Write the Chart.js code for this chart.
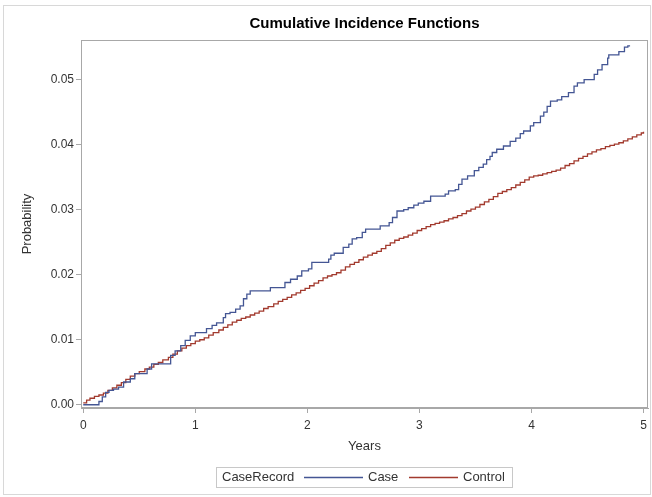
<!DOCTYPE html>
<html><head><meta charset="utf-8">
<script src="https://cdn.jsdelivr.net/npm/chart.js@4/dist/chart.umd.min.js"></script>
<style>html,body{margin:0;padding:0;background:#fff}#wrap{width:652px;height:497px;position:relative}canvas{display:block}</style>
</head><body><div id="wrap"><canvas id="c" width="652" height="497"></canvas></div>
<script>
const titleText = 'Cumulative Incidence Functions';
const xTitle = 'Years';
const yTitle = 'Probability';
const legendTitle = 'CaseRecord';
const seriesNames = ['Case', 'Control'];
const xTickValues = [0, 1, 2, 3, 4, 5];
const yTickValues = [0, 0.01, 0.02, 0.03, 0.04, 0.05];

const caseTimes = [0,0.14,0.17,0.20,0.23,0.27,0.315,0.36,0.42,0.46,0.57,0.61,0.78,0.82,0.87,0.91,0.955,1.0,1.10,1.15,1.19,1.25,1.27,1.31,1.36,1.40,1.43,1.46,1.49,1.67,1.80,1.85,1.91,1.95,2.01,2.04,2.19,2.21,2.24,2.32,2.37,2.40,2.44,2.49,2.52,2.65,2.73,2.76,2.80,2.86,2.90,2.95,2.99,3.04,3.10,3.23,3.26,3.32,3.35,3.38,3.43,3.49,3.53,3.57,3.60,3.63,3.65,3.69,3.75,3.81,3.86,3.90,3.93,3.99,4.02,4.08,4.11,4.14,4.17,4.23,4.27,4.33,4.38,4.41,4.47,4.56,4.59,4.63,4.68,4.69,4.78,4.83,4.86,4.88];
const caseProb = [0,0.0005,0.0012,0.0019,0.0022,0.0024,0.0027,0.0035,0.0040,0.0048,0.0055,0.0063,0.0076,0.0083,0.0091,0.0099,0.0106,0.0111,0.0117,0.0122,0.0126,0.0134,0.0140,0.0142,0.0147,0.0152,0.0163,0.0170,0.0175,0.0180,0.0188,0.0193,0.0198,0.0206,0.0209,0.0219,0.0224,0.0230,0.0233,0.0242,0.0247,0.0255,0.0257,0.0265,0.0270,0.0275,0.0280,0.0288,0.0298,0.0300,0.0303,0.0307,0.0310,0.0313,0.0321,0.0324,0.0329,0.0331,0.0339,0.0347,0.0352,0.0360,0.0365,0.0370,0.0377,0.0382,0.0388,0.0393,0.0398,0.0405,0.0410,0.0417,0.0421,0.0429,0.0434,0.0444,0.0450,0.0459,0.0467,0.0469,0.0474,0.0480,0.0490,0.0495,0.0500,0.0508,0.0515,0.0523,0.0533,0.0538,0.0543,0.0550,0.0552,0.0552];

const controlTimes = [0,0.03,0.06,0.10,0.14,0.18,0.22,0.26,0.30,0.34,0.38,0.42,0.46,0.50,0.55,0.59,0.63,0.67,0.71,0.76,0.80,0.84,0.88,0.92,0.96,1.00,1.04,1.08,1.12,1.16,1.21,1.25,1.29,1.33,1.37,1.41,1.45,1.49,1.53,1.57,1.61,1.65,1.70,1.74,1.78,1.82,1.86,1.90,1.94,1.98,2.02,2.06,2.10,2.14,2.18,2.22,2.26,2.30,2.34,2.38,2.42,2.46,2.50,2.54,2.58,2.62,2.66,2.70,2.74,2.78,2.82,2.86,2.90,2.94,2.98,3.02,3.06,3.10,3.14,3.18,3.22,3.26,3.30,3.34,3.38,3.42,3.46,3.50,3.54,3.58,3.62,3.66,3.70,3.74,3.78,3.82,3.86,3.90,3.94,3.98,4.02,4.06,4.10,4.14,4.18,4.22,4.26,4.30,4.34,4.38,4.42,4.46,4.50,4.54,4.58,4.62,4.66,4.70,4.74,4.78,4.82,4.86,4.90,4.94,4.98,5.00];
const controlProb = [0.0003,0.0007,0.0010,0.0013,0.0015,0.0018,0.0022,0.0026,0.0030,0.0034,0.0039,0.0044,0.0048,0.0051,0.0055,0.0058,0.0062,0.0065,0.0069,0.0073,0.0078,0.0083,0.0087,0.0091,0.0094,0.0098,0.0100,0.0103,0.0107,0.0111,0.0115,0.0119,0.0123,0.0127,0.0130,0.0133,0.0135,0.0138,0.0141,0.0144,0.0148,0.0151,0.0155,0.0159,0.0162,0.0165,0.0169,0.0172,0.0176,0.0179,0.0183,0.0187,0.0191,0.0195,0.0198,0.0200,0.0203,0.0207,0.0212,0.0216,0.0219,0.0223,0.0227,0.0230,0.0233,0.0236,0.0240,0.0245,0.0249,0.0253,0.0256,0.0258,0.0261,0.0264,0.0268,0.0271,0.0274,0.0277,0.0279,0.0281,0.0283,0.0286,0.0288,0.0291,0.0294,0.0298,0.0301,0.0304,0.0308,0.0312,0.0316,0.0320,0.0325,0.0328,0.0331,0.0334,0.0338,0.0342,0.0346,0.0350,0.0352,0.0353,0.0355,0.0357,0.0359,0.0361,0.0364,0.0368,0.0371,0.0375,0.0379,0.0382,0.0386,0.0389,0.0392,0.0394,0.0397,0.0399,0.0401,0.0403,0.0406,0.0409,0.0412,0.0415,0.0418,0.0420];

const colors = ['#445694', '#A23A2E'];
const FONT = '"Liberation Sans", Arial, sans-serif';
const TXT = '#333333';
const AXC = '#a8a8a8';

const toPts = (xs, ys) => xs.map((x, i) => ({x: x, y: ys[i]}));

const decor = {
  id: 'decor',
  afterDraw(chart) {
    const ctx = chart.ctx, a = chart.chartArea;
    ctx.save();
    ctx.strokeStyle = '#d8d8d8'; ctx.lineWidth = 1;
    ctx.strokeRect(3.5, 5.5, 647, 489);
    ctx.strokeStyle = AXC;
    ctx.strokeRect(Math.round(a.left) + 0.5, Math.round(a.top) + 0.5, Math.round(a.right - a.left) - 1, Math.round(a.bottom - a.top) - 1);
    const cx = (a.left + a.right) / 2;
    ctx.fillStyle = '#000';
    ctx.font = 'bold 15px ' + FONT;
    ctx.textAlign = 'center'; ctx.textBaseline = 'middle';
    ctx.fillText(titleText, cx, 24);
    ctx.font = '13px ' + FONT;
    ctx.fillStyle = TXT;
    ctx.fillText(xTitle, cx, 446);
    ctx.save();
    ctx.translate(27, (a.top + a.bottom) / 2);
    ctx.rotate(-Math.PI / 2);
    ctx.fillText(yTitle, 0, 0);
    ctx.restore();
    ctx.textAlign = 'left';
    const ly = 477;
    const bx = 216, bw = 296, by = 467, bh = 20;
    ctx.strokeStyle = '#c8c8c8';
    ctx.strokeRect(bx + 0.5, by + 0.5, bw, bh);
    ctx.fillText(legendTitle, 222, ly);
    const items = [[304, 363, 368], [409, 458, 463]];
    items.forEach((it, i) => {
      ctx.strokeStyle = colors[i]; ctx.lineWidth = 1.3;
      ctx.beginPath(); ctx.moveTo(it[0], ly + 0.5); ctx.lineTo(it[1], ly + 0.5); ctx.stroke();
      ctx.fillText(seriesNames[i], it[2], ly);
    });
    ctx.restore();
  }
};

new Chart(document.getElementById('c'), {
  type: 'line',
  data: {
    datasets: [
      {label: seriesNames[0], data: toPts(caseTimes, caseProb), borderColor: colors[0], borderWidth: 1.3, stepped: 'before', pointRadius: 0, fill: false},
      {label: seriesNames[1], data: toPts(controlTimes, controlProb), borderColor: colors[1], borderWidth: 1.3, stepped: 'before', pointRadius: 0, fill: false}
    ]
  },
  options: {
    responsive: false,
    devicePixelRatio: 1,
    animation: false,
    layout: {padding: {top: 40, left: 0, right: 4, bottom: 0}},
    plugins: {legend: {display: false}, title: {display: false}, tooltip: {enabled: false}},
    scales: {
      x: {
        type: 'linear', min: -0.02, max: 5.04,
        afterBuildTicks: s => { s.ticks = xTickValues.map(v => ({value: v})); },
        afterFit: s => { s.height = 89; },
        grid: {drawOnChartArea: false, drawTicks: true, tickLength: 5, color: AXC},
        border: {color: AXC},
        ticks: {color: TXT, font: {family: FONT, size: 12}, padding: 5, maxRotation: 0, callback: v => String(v)},
        title: {display: false}
      },
      y: {
        type: 'linear', min: -0.0005, max: 0.0561,
        afterBuildTicks: s => { s.ticks = yTickValues.map(v => ({value: v})); },
        afterFit: s => { s.width = 81; },
        grid: {drawOnChartArea: false, drawTicks: true, tickLength: 5, color: AXC},
        border: {color: AXC},
        ticks: {color: TXT, font: {family: FONT, size: 12}, padding: 2, callback: v => Number(v).toFixed(2)},
        title: {display: false}
      }
    }
  },
  plugins: [decor]
});
</script>
</body></html>
